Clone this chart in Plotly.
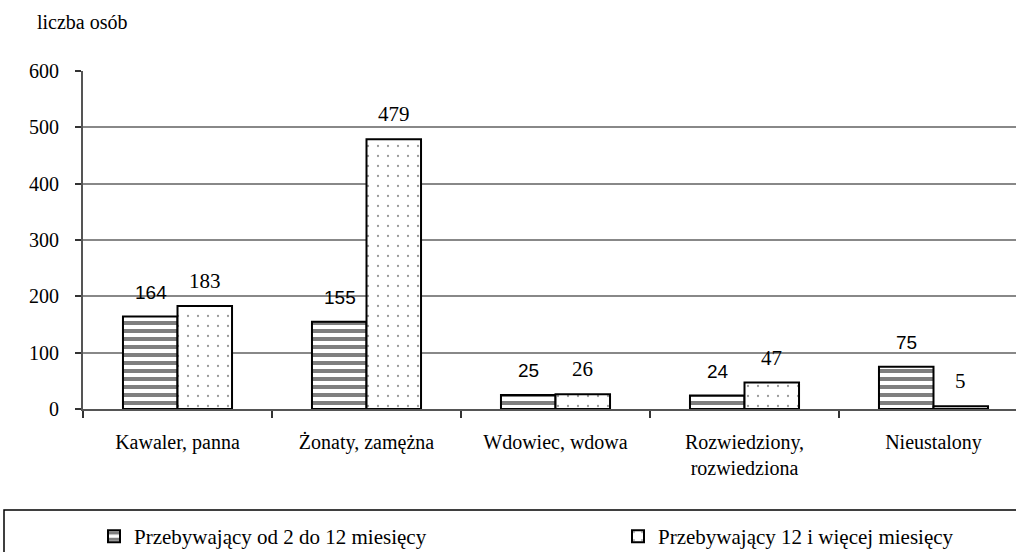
import plotly.graph_objects as go

categories = ["Kawaler, panna", "Żonaty, zamężna", "Wdowiec, wdowa",
              "Rozwiedziony,<br>rozwiedziona", "Nieustalony"]
series1_name = "Przebywający od 2 do 12 miesięcy"
series2_name = "Przebywający 12 i więcej miesięcy"
series1 = [164, 155, 25, 24, 75]
series2 = [183, 479, 26, 47, 5]
y_ticks = [0, 100, 200, 300, 400, 500, 600]

W, H = 1016, 552
L, T, B = 83, 71, 143
plot_w = W - L
plot_h = H - T - B

serif = "Liberation Serif"
sans = "Liberation Sans"

def px_x(p):
    return (p - L) / plot_w

def px_y(p):
    return (T + plot_h - p) / plot_h

fig = go.Figure()
fig.add_trace(go.Bar(
    x=categories, y=series1, name=series1_name, legend="legend",
    marker=dict(color="white", line=dict(color="black", width=2),
                pattern=dict(shape="-", fgcolor="black", bgcolor="white",
                             size=8, solidity=0.5)),
))
fig.add_trace(go.Bar(
    x=categories, y=series2, name=series2_name, legend="legend2",
    marker=dict(color="white", line=dict(color="black", width=2),
                pattern=dict(shape=".", fgcolor="#333333", bgcolor="white",
                             size=10, solidity=0.04)),
))

annotations = []
for c, v in zip(categories, series1):
    annotations.append(dict(x=c, y=v, xref="x", yref="y", text=str(v),
                            showarrow=False, xshift=-27, yshift=24,
                            yanchor="middle",
                            font=dict(family=sans, size=19, color="black")))
for c, v in zip(categories, series2):
    annotations.append(dict(x=c, y=v, xref="x", yref="y", text=str(v),
                            showarrow=False, xshift=27, yshift=25,
                            yanchor="middle",
                            font=dict(family=serif, size=21, color="black")))
annotations.append(dict(x=px_x(35), y=px_y(22),
                        xref="paper", yref="paper", text="liczba osób",
                        showarrow=False, xanchor="left", yanchor="middle",
                        font=dict(family=serif, size=20, color="black")))

legend_common = dict(orientation="h", xanchor="left",
                     y=px_y(516), yanchor="top",
                     bgcolor="rgba(0,0,0,0)", borderwidth=0,
                     font=dict(family=serif, size=21, color="black"),
                     itemclick=False, itemdoubleclick=False)

fig.update_layout(
    width=W, height=H,
    margin=dict(l=L, r=0, t=T, b=B, pad=0, autoexpand=False),
    paper_bgcolor="white", plot_bgcolor="white",
    barmode="group", bargap=0.423, bargroupgap=0,
    font=dict(family=serif, size=20, color="black"),
    showlegend=True,
    legend=dict(x=px_x(94), **legend_common),
    legend2=dict(x=px_x(618), **legend_common),
    annotations=annotations,
    shapes=[dict(type="rect", xref="paper", yref="paper",
                 x0=px_x(4), x1=1.05,
                 y0=px_y(510), y1=px_y(600),
                 line=dict(color="black", width=1.5), fillcolor="rgba(0,0,0,0)",
                 layer="below")],
)
fig.update_xaxes(
    type="category", range=[-0.5, 4.5 - 12 / 189],
    showline=True, linecolor="#555555", linewidth=2,
    ticks="outside", tickson="boundaries", ticklen=7, tickwidth=1.5,
    tickcolor="#333333", ticklabelstandoff=14,
    showgrid=False, tickfont=dict(family=serif, size=20),
)
fig.update_yaxes(
    range=[0, 600], tickvals=y_ticks,
    showline=True, linecolor="#555555", linewidth=2,
    ticks="outside", ticklen=6, tickwidth=1.5, tickcolor="#333333",
    ticklabelstandoff=12,
    showgrid=True, gridcolor="#888888", gridwidth=2,
    zeroline=False, tickfont=dict(family=serif, size=20),
)

fig.write_html("out.html", config={"displayModeBar": False},
               post_script="document.body.style.margin='0px';")
